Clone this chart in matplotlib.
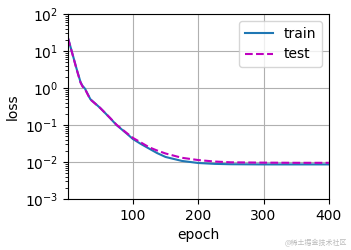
import matplotlib
matplotlib.use("Agg")
import matplotlib.pyplot as plt

# values
epochs = [1, 8, 14, 20, 23, 27, 35, 50, 65, 75, 90, 100, 112, 125, 137, 150, 175,
          200, 225, 250, 300, 350, 400]
train_loss = [22, 8.0, 3.3, 1.45, 1.15, 0.95, 0.5, 0.29, 0.155, 0.1, 0.06, 0.042, 0.031,
              0.023, 0.0175, 0.0137, 0.0107, 0.0094, 0.0089, 0.0087, 0.0086, 0.0086, 0.0086]
test_loss = [22, 7.8, 3.2, 1.4, 1.1, 0.92, 0.49, 0.29, 0.157, 0.102, 0.062, 0.045, 0.034,
             0.025, 0.0205, 0.017, 0.013, 0.0113, 0.0103, 0.0098, 0.0096, 0.0095, 0.0095]

fig = plt.figure(figsize=(3.51, 2.5), dpi=100)
ax = fig.add_axes([0.194, 0.204, 0.743, 0.74])

ax.plot(epochs, train_loss, color="#1f77b4", linestyle="-", label="train")
ax.plot(epochs, test_loss, color="m", linestyle="--", label="test")
ax.set_yscale("log")
ax.set_xlim(1, 400)
ax.set_ylim(1e-3, 1e2)
ax.set_xlabel("epoch")
ax.set_ylabel("loss")
ax.grid(True)
ax.legend(loc="upper right")

fig.text(0.99, 0.01, "@稀土掘金技术社区", ha="right", va="bottom", fontsize=5, color="#bbbbbb",
         family=["Noto Sans CJK SC", "DejaVu Sans"])

fig.savefig("out.png", dpi=100)
